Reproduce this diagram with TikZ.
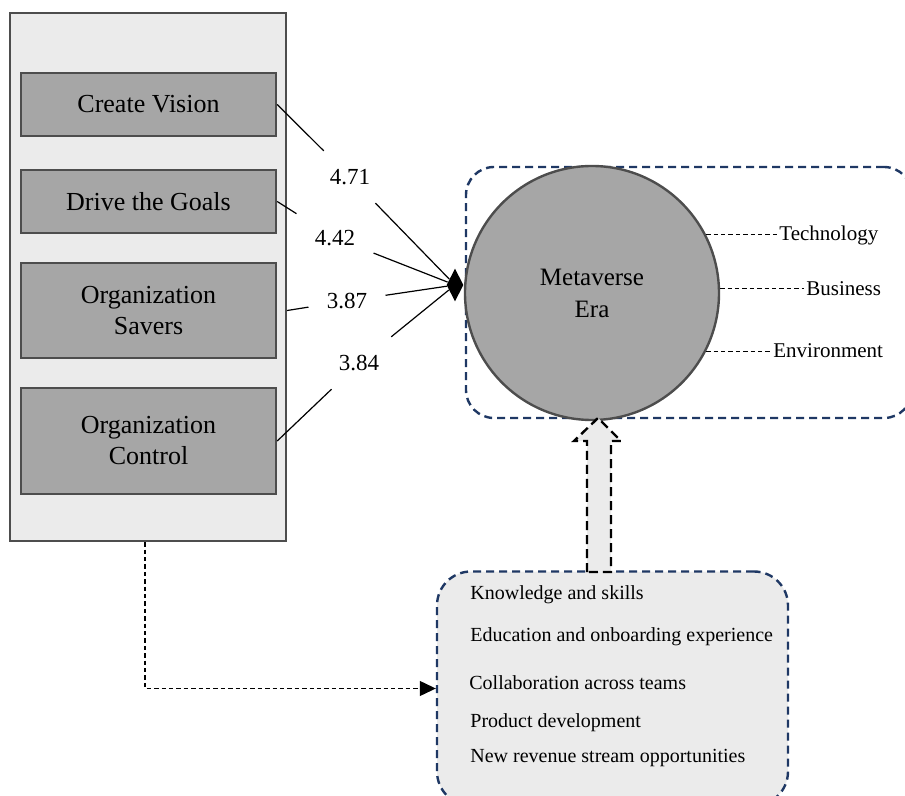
\documentclass[tikz,border=0pt]{standalone}
\usepackage{fontspec}
\setmainfont{Liberation Serif}
\usetikzlibrary{shapes.geometric,arrows.meta}

\definecolor{panelgray}{HTML}{EBEBEB}
\definecolor{boxgray}{HTML}{A6A6A6}
\definecolor{edgegray}{HTML}{4D4D4D}
\definecolor{navy}{HTML}{1F3864}

\begin{document}
\begin{tikzpicture}[x=0.5pt, y=-0.5pt,
  factor/.style={draw=edgegray, fill=boxgray, line width=1.2pt, minimum width=127.5pt,
    inner sep=0pt, align=center, font=\fontsize{13}{15.5}\selectfont},
  weight/.style={inner sep=9pt, font=\fontsize{11.5}{13}\selectfont},
  tag/.style={inner sep=1pt, anchor=west, font=\fontsize{10.5}{12}\selectfont},
  item/.style={inner sep=0pt, anchor=west, font=\fontsize{10}{12}\selectfont},
  navydash/.style={draw=navy, line width=1.2pt, dash pattern=on 4pt off 2.5pt},
  leader/.style={line width=0.5pt, dash pattern=on 2.2pt off 1.5pt},
  link/.style={line width=0.6pt}]
\useasboundingbox (0,0) rectangle (905,796);
\clip (0,0) rectangle (905,796);

% leadership factors
\node[draw=edgegray, fill=panelgray, line width=1.2pt, minimum width=138pt,
  minimum height=264pt, inner sep=0pt] (panel) at (148,277) {};
\node[factor, minimum height=31.5pt] (cv) at (148.5,104.5) {Create Vision};
\node[factor, minimum height=31.5pt] (dg) at (148.5,201.5) {Drive the Goals};
\node[factor, minimum height=47.5pt] (os) at (148.5,310.5) {Organization\\Savers};
\node[factor, minimum height=53pt] (oc) at (148.5,441) {Organization\\Control};

% metaverse era
\node[navydash, rounded corners=14pt, minimum width=223pt, minimum height=125.5pt] (era) at (689,292.5) {};
\node[circle, draw=edgegray, fill=boxgray, line width=1.2pt, minimum size=127pt, inner sep=0pt,
  align=center, font=\fontsize{12.5}{16}\selectfont] (met) at (592,293) {Metaverse\\Era};
\node[diamond, fill=black, inner sep=0pt, minimum width=8.5pt, minimum height=16.5pt] (hub) at (455,285) {};

\node[weight] (w1) at (350,177) {4.71};
\node[weight] (w2) at (335,238) {4.42};
\node[weight] (w3) at (347,301) {3.87};
\node[weight] (w4) at (359,363) {3.84};
\draw[link] (cv.east) -- (w1); \draw[link] (w1) -- (hub);
\draw[link] (dg.east) -- (w2); \draw[link] (w2) -- (hub);
\draw[link] (os.east -| panel.east) -- (w3); \draw[link] (w3) -- (hub);
\draw[link] (oc.east) -- (w4); \draw[link] (w4) -- (hub);

\node[tag] (tech) at (777,235) {Technology};
\node[tag] (bus) at (804,288.5) {Business};
\node[tag] (env) at (771,351) {Environment};
\draw[leader] (met.27) -- (met.27 -| tech.west);
\draw[leader] (met.2) -- (met.2 -| bus.west);
\draw[leader] (met.-27) -- (met.-27 -| env.west);

% skills box
\node[navydash, fill=panelgray, rounded corners=17pt, minimum width=175.5pt, minimum height=117pt] (skills) at (612.5,688.5) {};
\node[item] (k1) at (470,595) {Knowledge and skills};
\node[item] (k2) at (470,637) {Education and onboarding experience};
\node[item] (k3) at (469,683) {Collaboration across teams};
\node[item] (k4) at (470,723) {Product development};
\node[item] (k5) at (470,758) {New revenue stream opportunities};

\draw[fill=panelgray, line width=1.2pt, dash pattern=on 4.5pt off 2.5pt]
  (587,572) -- (587,441) -- (574,441) -- (598,418) -- (621,441) -- (611,441) -- (611,572) -- cycle;

\draw[leader, line width=0.6pt, -{Triangle[length=8pt,width=7.5pt]}] ([xshift=-1.5pt]panel.south) |- (skills.west);
\end{tikzpicture}
\end{document}
